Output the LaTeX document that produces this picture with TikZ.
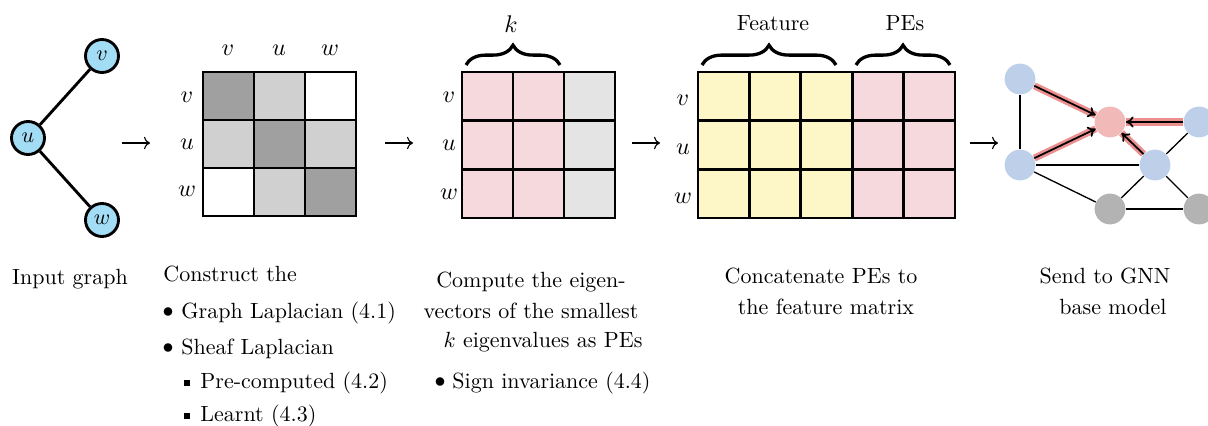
\documentclass[tikz,border=0pt]{standalone}
\usetikzlibrary{decorations.pathreplacing,arrows.meta}
\definecolor{cyannode}{HTML}{A3DDF5}
\definecolor{dgray}{HTML}{A0A0A0}
\definecolor{lgray}{HTML}{D0D0D0}
\definecolor{pinkc}{HTML}{F5D9DC}
\definecolor{egray}{HTML}{E4E4E4}
\definecolor{yelc}{HTML}{FDF6C6}
\definecolor{gblue}{HTML}{BED0E9}
\definecolor{gpink}{HTML}{F2B9B9}
\definecolor{ggray}{HTML}{B3B3B3}
\definecolor{gred}{HTML}{EB8F8F}
\tikzset{
  gnode/.style={circle,draw=black,line width=1.3pt,fill=cyannode,minimum size=15pt,inner sep=0pt},
  gedge/.style={line width=1.3pt},
  grid/.style={line width=1.3pt},
  flow/.style={->,line width=0.5pt},
  lab/.style={inner sep=0pt,font=\fontsize{11}{13}\selectfont},
  txt/.style={inner sep=0pt,anchor=base},
  txtw/.style={inner sep=0pt,anchor=base west},
  blt/.style={inner sep=0pt},
  brc/.style={decorate,decoration={brace,amplitude=9pt},line width=1.5pt},
  nn/.style={circle,minimum size=14pt,inner sep=0pt},
  nedge/.style={line width=0.6pt},
  redge/.style={line width=3.2pt,gred},
  aedge/.style={line width=0.8pt,-{To[length=3.5pt,width=5pt]}},
  sq/.style={fill=black,minimum size=2.4pt,inner sep=0pt}
}
\begin{document}
\begin{tikzpicture}[x=0.4545pt,y=-0.4545pt]
\useasboundingbox (0,0) rectangle (1208,425);
% input graph
\node[gnode] (v) at (102,56) {$v$};
\node[gnode] (u) at (28,138) {$u$};
\node[gnode] (w) at (102,220) {$w$};
\draw[gedge] (u) -- (v);
\draw[gedge] (u) -- (w);
% arrow 1
\coordinate (a1s) at (122,143); \coordinate (a1e) at (150,143);
\draw[flow] (a1s) -- (a1e);
% matrix 1
\fill[dgray] (203,72) rectangle (254,120);
\fill[lgray] (254,72) rectangle (305,120);
\fill[white] (305,72) rectangle (356,120);
\fill[lgray] (203,120) rectangle (254,168);
\fill[dgray] (254,120) rectangle (305,168);
\fill[lgray] (305,120) rectangle (356,168);
\fill[white] (203,168) rectangle (254,216);
\fill[lgray] (254,168) rectangle (305,216);
\fill[dgray] (305,168) rectangle (356,216);
\draw[grid] (203,72) rectangle (356,216);
\draw[grid] (254,72) -- (254,216) (305,72) -- (305,216) (203,120) -- (356,120) (203,168) -- (356,168);
\node[lab] (c1v) at (228,50) {$v$};
\node[lab] (c1u) at (279,50) {$u$};
\node[lab] (c1w) at (330,50) {$w$};
\node[lab] (r1v) at (187,97) {$v$};
\node[lab] (r1u) at (187,144) {$u$};
\node[lab] (r1w) at (187,191) {$w$};
% arrow 2
\coordinate (a2s) at (385,143); \coordinate (a2e) at (413,143);
\draw[flow] (a2s) -- (a2e);
% matrix 2
\fill[pinkc] (462,72) rectangle (564,218);
\fill[egray] (564,72) rectangle (615,218);
\draw[grid] (462,72) rectangle (615,218);
\draw[grid] (513,72) -- (513,218) (564,72) -- (564,218) (462,120.7) -- (615,120.7) (462,169.3) -- (615,169.3);
\node[lab] (r2v) at (449,97) {$v$};
\node[lab] (r2u) at (449,145) {$u$};
\node[lab] (r2w) at (449,194) {$w$};
\draw[brc] (466,65) -- (560,65);
\node[lab] (klab) at (511,24) {$k$};
% arrow 3
\coordinate (a3s) at (632,143); \coordinate (a3e) at (660,143);
\draw[flow] (a3s) -- (a3e);
% matrix 3
\fill[yelc] (698,72) rectangle (852.2,218);
\fill[pinkc] (852.2,72) rectangle (955,218);
\draw[grid] (698,72) rectangle (955,218);
\draw[grid] (749.4,72) -- (749.4,218) (800.8,72) -- (800.8,218) (852.2,72) -- (852.2,218) (903.6,72) -- (903.6,218)
  (698,120.7) -- (955,120.7) (698,169.3) -- (955,169.3);
\node[lab] (r3v) at (683,100) {$v$};
\node[lab] (r3u) at (683,149) {$u$};
\node[lab] (r3w) at (683,198) {$w$};
\draw[brc] (702,65) -- (836,65);
\draw[brc] (856,65) -- (950,65);
\node[txt] (flab) at (773,30) {Feature};
\node[txt] (plab) at (905,30) {PEs};
% arrow 4
\coordinate (a4s) at (970,143); \coordinate (a4e) at (998,143);
\draw[flow] (a4s) -- (a4e);
% GNN graph
\node[nn,fill=gblue] (A) at (1020,79) {};
\node[nn,fill=gblue] (B) at (1020,165) {};
\node[nn,fill=gpink] (C) at (1110,122) {};
\node[nn,fill=gblue] (D) at (1199,122) {};
\node[nn,fill=gblue] (E) at (1155,165) {};
\node[nn,fill=ggray] (F) at (1110,209) {};
\node[nn,fill=ggray] (G) at (1199,209) {};
\draw[nedge] (A) -- (B);
\draw[nedge] (B) -- (E);
\draw[nedge] (B) -- (F);
\draw[nedge] (E) -- (D);
\draw[nedge] (E) -- (F);
\draw[nedge] (E) -- (G);
\draw[nedge] (F) -- (G);
\foreach \s in {A,B,D,E}{
  \draw[redge] (\s) -- (C);
  \draw[aedge] (\s) -- (C);
}
% texts
\node[txt] (t1) at (70,284) {Input graph};
\node[txtw] (t2a) at (163,281) {Construct the};
\node[blt] (b1) at (168,313) {$\bullet$};
\node[txtw] (t2b) at (181,318) {Graph Laplacian (4.1)};
\node[blt] (b2) at (168,349) {$\bullet$};
\node[txtw] (t2c) at (181,354) {Sheaf Laplacian};
\node[sq] (b3) at (187,383) {};
\node[txtw] (t2d) at (200,388) {Pre-computed (4.2)};
\node[sq] (b4) at (187,416) {};
\node[txtw] (t2e) at (200,421) {Learnt (4.3)};
\node[txt] (t3a) at (531,287) {Compute the eigen-};
\node[txt] (t3b) at (531,318) {vectors of the smallest};
\node[txt] (t3c) at (543,347) {$k$ eigenvalues as PEs};
\node[blt] (b5) at (440,383) {$\bullet$};
\node[txtw] (t3d) at (452,388) {Sign invariance (4.4)};
\node[txt] (t4a) at (821,283) {Concatenate PEs to};
\node[txt] (t4b) at (826,314) {the feature matrix};
\node[txt] (t5a) at (1105,283) {Send to GNN};
\node[txt] (t5b) at (1113,314) {base model};
\end{tikzpicture}
\end{document}
